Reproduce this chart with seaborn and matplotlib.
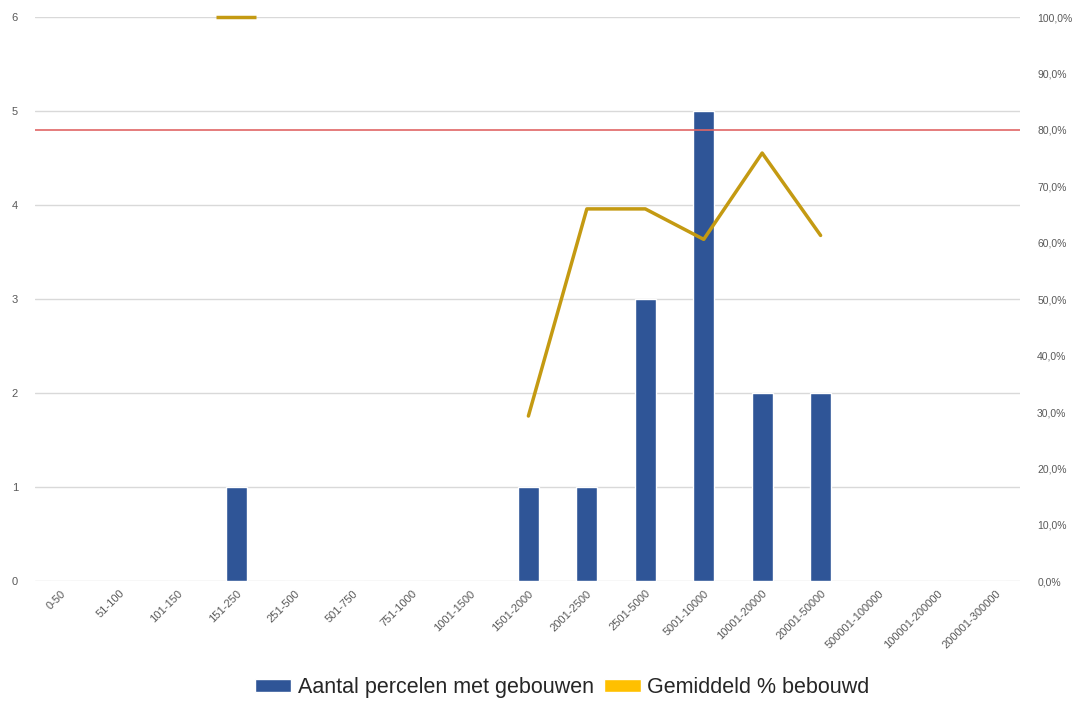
import numpy as np
import pandas as pd
import matplotlib
matplotlib.use("Agg")
import matplotlib.pyplot as plt
from matplotlib.patches import Patch
from matplotlib.ticker import FuncFormatter
import seaborn as sns

# data
categories = ["0-50", "51-100", "101-150", "151-250", "251-500", "501-750",
              "751-1000", "1001-1500", "1501-2000", "2001-2500", "2501-5000",
              "5001-10000", "10001-20000", "20001-50000", "500001-100000",
              "100001-200000", "200001-300000"]
aantal = [0, 0, 0, 1, 0, 0, 0, 0, 1, 1, 3, 5, 2, 2, 0, 0, 0]
gem_bebouwd = [np.nan, np.nan, np.nan, 1.00, np.nan, np.nan, np.nan, np.nan,
               0.293, 0.66, 0.66, 0.606, 0.759, 0.613, np.nan, np.nan, np.nan]
grens = 0.80

bar_color = "#2F5597"
line_color = "#C49A12"
legend_yellow = "#FFC000"
grid_color = "#D9D9D9"
tick_color = "#595959"

sns.set_theme(style="white")
plt.rcParams["font.family"] = ["Liberation Sans", "DejaVu Sans"]

df = pd.DataFrame({"klasse": categories, "aantal": aantal, "pct": gem_bebouwd})

fig, ax = plt.subplots(figsize=(10.81, 7.09), dpi=100)
fig.subplots_adjust(left=0.032, right=0.944, top=0.976, bottom=0.18)

sns.barplot(data=df, x="klasse", y="aantal", color=bar_color, width=0.36,
            saturation=1, ax=ax, zorder=3)
ax.set_ylim(0, 6)
ax.set_xlim(-0.45, len(categories) - 0.58)
ax.set_yticks(range(0, 7))
ax.yaxis.grid(True, color=grid_color, linewidth=1, zorder=0)
ax.set_axisbelow(True)
ax.set_xlabel("")
ax.set_ylabel("")
for s in ax.spines.values():
    s.set_visible(False)
ax.tick_params(axis="y", length=0, labelsize=8, labelcolor=tick_color, pad=12)
ax.tick_params(axis="x", length=0, labelsize=8, labelcolor=tick_color, pad=5)
plt.setp(ax.get_xticklabels(), rotation=45, ha="right", rotation_mode="anchor")

ax2 = ax.twinx()
xpos = np.arange(len(categories))
pct = np.array(gem_bebouwd, dtype=float)
ax2.plot(xpos, pct, color=line_color, linewidth=2.5, zorder=4)
# losse punten (zonder buren) als kort streepje
valid = ~np.isnan(pct)
prev_ok = np.r_[False, valid[:-1]]
next_ok = np.r_[valid[1:], False]
single = valid & ~prev_ok & ~next_ok
ax2.plot(xpos[single], pct[single], linestyle="none", marker="_",
         markersize=29, markeredgewidth=2.5, color=line_color, clip_on=False)
ax2.axhline(grens, color="#E06666", linewidth=1.2)
ax2.set_ylim(0, 1.0)
ax2.set_yticks(np.arange(0, 1.01, 0.1))
ax2.yaxis.set_major_formatter(FuncFormatter(lambda v, p: f"{v*100:.1f}%".replace(".", ",")))
ax2.tick_params(axis="y", length=0, labelsize=7.5, labelcolor=tick_color, pad=12)
ax2.grid(False)
for s in ax2.spines.values():
    s.set_visible(False)

handles = [Patch(facecolor=bar_color, label="Aantal percelen met gebouwen"),
           Patch(facecolor=legend_yellow, label="Gemiddeld % bebouwd")]
fig.legend(handles=handles, loc="lower center", bbox_to_anchor=(0.52, -0.012),
           ncol=2, frameon=False, fontsize=15.5, handlelength=1.7,
           handleheight=0.5, handletextpad=0.3, columnspacing=0.5)

fig.savefig("out.png", dpi=100)
